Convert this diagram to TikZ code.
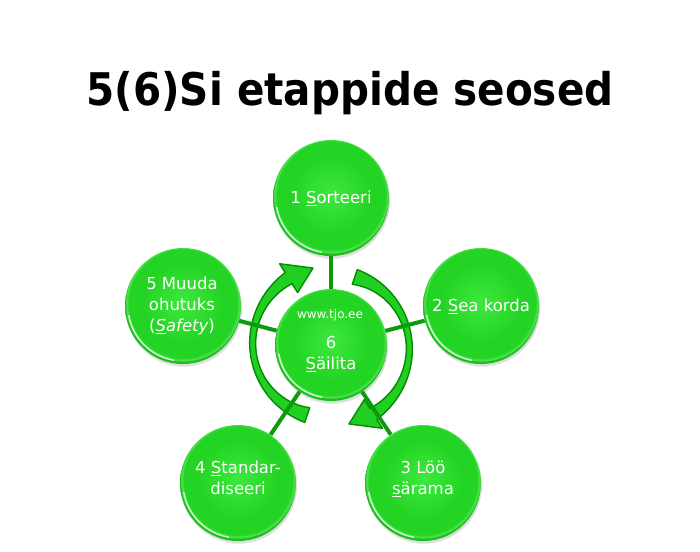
\documentclass[tikz,border=0pt]{standalone}
\usepackage{fontspec}
\setmainfont{DejaVu Sans}
\usepackage{graphicx}
\definecolor{ballA}{RGB}{62,232,62}
\definecolor{ballB}{RGB}{36,212,36}
\definecolor{ballRim}{RGB}{90,228,90}
\definecolor{ballEdge}{RGB}{26,190,26}
\definecolor{spoke}{RGB}{12,155,12}
\definecolor{arrowfill}{RGB}{34,206,34}
\definecolor{arrowline}{RGB}{0,140,0}
\pgfdeclareradialshading{gball}{\pgfpoint{0bp}{2bp}}{color(0bp)=(ballA); color(17bp)=(ballB); color(23.5bp)=(ballB); color(24.4bp)=(ballRim); color(25bp)=(ballEdge); color(50bp)=(ballEdge)}
\begin{document}
\begin{tikzpicture}[x=1pt,y=-1pt,
  ball/.style={circle, minimum size=116pt, inner sep=0pt, shading=gball,
    text=white, align=center, font=\fontsize{16.5}{21}\selectfont},
  txt/.style={text=white, align=center, font=\fontsize{16.5}{21}\selectfont, inner sep=0pt},
  spokeline/.style={draw=spoke, line width=4pt},
  arrowstyle/.style={fill=arrowfill, draw=arrowline, line width=1.4pt, line join=round},
  shadowc/.style={fill=black, opacity=0.07},
  declare function={uu(\a)=(\a-5.5)/65.5; mm(\u)=78-3.5*\u-1.5*\u*\u;
    tt(\u)=6+8.5*\u*\u+\u; ro(\a)=mm(uu(\a))+tt(uu(\a))/2; ri(\a)=mm(uu(\a))-tt(uu(\a))/2;}]
\useasboundingbox (0,0) rectangle (700,551);
\fill[white] (0,0) rectangle (700,551);
% title
\node[anchor=base, inner sep=0pt, font=\bfseries\fontsize{45}{50}\selectfont] (title) at (350,105) {\scalebox{0.9}[1]{5(6)Si etappide seosed}};
% circular arrows
\foreach \r in {0,180}{
\begin{scope}[rotate around={\r:(331,346)}]
 \filldraw[arrowstyle] plot[domain=71:-58,samples=50,variable=\a] ({331+ro(\a)*cos(\a)},{346-ro(\a)*sin(\a)})
  -- ({331+97*cos(-58)},{346-97*sin(-58)})
  -- ({331+80*cos(-77)},{346-80*sin(-77)})
  -- ({331+63*cos(-58)},{346-63*sin(-58)})
  -- plot[domain=-58:71,samples=50,variable=\a] ({331+ri(\a)*cos(\a)},{346-ri(\a)*sin(\a)}) -- cycle;
\end{scope}}
% shadows
\foreach \p/\rr in {{(331,198)}/58,{(481,306)}/58,{(423,483)}/58,{(238,483)}/58,{(183,306)}/58,{(331,345)}/56}{
  \fill[shadowc] \p ++(1,3) circle (\rr);
  \fill[shadowc] \p ++(1,2) circle (\rr);}
% circles
\node[ball] (s1) at (331,198) {1 \underline{S}orteeri};
\node[ball] (s2) at (481,306) {2 \underline{S}ea korda};
\node[ball] (s3) at (423,483) {};
\node[ball] (s4) at (238,483) {};
\node[ball] (s5) at (183,306) {};
\node[ball, minimum size=112pt] (s6) at (331,345) {};
\node[txt] (t3) at (423,479) {3 Löö\\\underline{s}ärama};
\node[txt] (t4) at (238,478) {4 \underline{S}tandar-\\diseeri};
\node[txt] (t5) at (182,306) {5 Muuda\\ohutuks\\(\underline{\itshape S}{\itshape afety})};
\node[txt, font=\fontsize{12}{14}\selectfont] (web) at (330,315) {www.tjo.ee};
\node[txt] (t6) at (331,354) {6\\\underline{S}äilita};
% glints
\foreach \p/\rr in {{(331,198)}/58,{(481,306)}/58,{(423,483)}/58,{(238,483)}/58,{(183,306)}/58,{(331,345)}/56}{
  \draw[white, opacity=0.75, line width=1.5pt, line cap=round] \p ++(100:\rr-3) arc[start angle=100, end angle=170, radius=\rr-3];}
% spokes
\foreach \n in {s1,s2,s3,s4,s5}{\draw[spokeline] (s6) -- (\n);}
\end{tikzpicture}
\end{document}
